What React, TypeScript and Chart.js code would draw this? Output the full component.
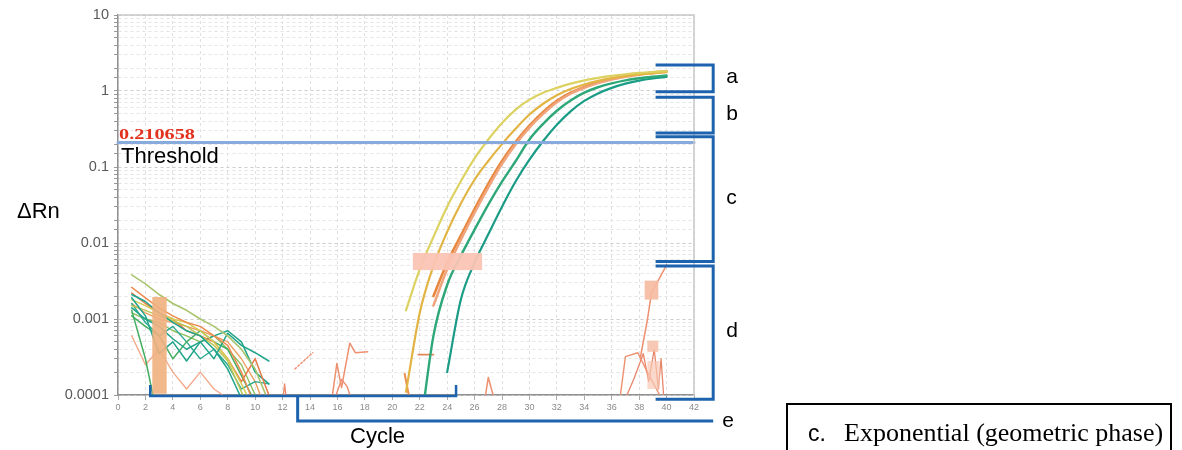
import React, { useEffect, useRef } from 'react';
import { Chart, registerables } from 'chart.js';

Chart.register(...registerables);

// ---------------- data ----------------
const yTickLabels = ['0.0001', '0.001', '0.01', '0.1', '1', '10'];
const thresholdValue = 0.210658;
const thresholdText = '0.210658';

// amplification curves (value per cycle, starting at the given cycle)
const ampYellowStart = 21;
const ampYellow = [0.0013, 0.0045, 0.012, 0.03, 0.065, 0.13, 0.23, 0.38, 0.57, 0.77, 0.95, 1.1, 1.25, 1.38, 1.49, 1.58, 1.66, 1.73, 1.78, 1.82];
const ampGoldStart = 21;
const ampGold = [0.00011, 0.0012, 0.005, 0.014, 0.033, 0.068, 0.12, 0.2, 0.32, 0.49, 0.68, 0.88, 1.06, 1.22, 1.36, 1.48, 1.57, 1.65, 1.71, 1.77];
const ampOrangeStart = 23;
const ampOrange = [0.002, 0.0055, 0.0125, 0.028, 0.06, 0.12, 0.215, 0.35, 0.53, 0.74, 0.95, 1.13, 1.3, 1.45, 1.57, 1.67, 1.75, 1.82];
const ampSalmonStart = 23;
const ampSalmon = [0.0015, 0.0045, 0.011, 0.025, 0.054, 0.11, 0.2, 0.33, 0.5, 0.71, 0.92, 1.1, 1.27, 1.42, 1.54, 1.64, 1.72, 1.79];
const ampGreenStart = 22;
const ampGreen = [0.00003, 0.0006, 0.0028, 0.0068, 0.015, 0.032, 0.064, 0.12, 0.23, 0.37, 0.55, 0.75, 0.95, 1.12, 1.26, 1.38, 1.47, 1.54, 1.6];
const ampTealStart = 24;
const ampTeal = [0.0002, 0.0018, 0.0055, 0.013, 0.03, 0.065, 0.125, 0.22, 0.36, 0.54, 0.74, 0.93, 1.1, 1.25, 1.37, 1.46, 1.53];

// baseline noise (cycles 1..11)
const noiseStart = 1;
const noiseOlive = [0.0038, 0.0029, 0.0021, 0.0016, 0.0013, 0.001, 0.0008, 0.0006, 0.0004, 0.00022, 0.00008];
const noiseOrangeA = [0.0026, 0.0019, 0.0014, 0.0011, 0.0009, 0.0008, 0.0006, 0.00045, 0.0002, 0.00007];
const noiseTealA = [0.0021, 0.0017, 0.0012, 0.0009, 0.0007, 0.0006, 0.0004, 0.00022, 0.00009];
const noiseTealB = [0.0019, 0.0011, 0.00035, 0.0005, 0.00028, 0.0005, 0.0003, 0.00065, 0.00045, 0.00036, 0.00028];
const noiseGreenA = [0.0013, 0.0003, 0.00004];
const noiseYellowA = [0.0018, 0.0015, 0.0012, 0.001, 0.0009, 0.0007, 0.0005, 0.0003, 0.00014, 0.00006];
const noiseYellowB = [0.0015, 0.0013, 0.0011, 0.00095, 0.0008, 0.0006, 0.00045, 0.00028, 0.00011, 0.00005];
const noiseOrangeB = [0.0022, 0.0016, 0.0012, 0.001, 0.0007, 0.0006, 0.0005, 0.0003, 0.00015, 0.0003, 0.0001];
const noiseTealC = [0.0014, 0.001, 0.0008, 0.00055, 0.0004, 0.0005, 0.0006, 0.0007, 0.0005, 0.0002, 0.00014];
const noiseGreenB = [0.0011, 0.0008, 0.0006, 0.0003, 0.0005, 0.0007, 0.0005, 0.0004, 0.00018, 0.00008];
const noiseSalmon = [0.0006, 0.00025, 0.0004, 0.0002, 0.00012, 0.0002, 0.00012, 0.00009];
const noiseTealD = [0.0016, 0.0009, 0.0006, 0.0008, 0.0005, 0.0003, 0.0004, 0.00025, 0.00012, 0.00015, 0.00014];
const noiseOrangeC = [0.0016, 0.0012, 0.001, 0.0009, 0.0008, 0.0007, 0.0006, 0.0005, 0.0003, 0.00015, 0.00005];
const noiseGreenC = [0.0012, 0.001, 0.0009, 0.0007, 0.0006, 0.0005, 0.0006, 0.0004, 0.00025, 0.0001];

// scattered fragments (cycle, value)
const fragSpikeC = [12.0, 12.15, 12.3];
const fragSpikeV = [0.00008, 0.00014, 0.00008];
const fragDashC = [12.9, 14.2];
const fragDashV = [0.00022, 0.00036];
const fragMidAC = [15.6, 15.96, 16.3, 16.9, 17.3, 18.2];
const fragMidAV = [0.00009, 0.00026, 0.000125, 0.00048, 0.00036, 0.00037];
const fragMidBC = [15.9, 16.3, 16.7, 17.0];
const fragMidBV = [0.0001, 0.00016, 0.00013, 0.00009];
const fragLowC = [20.9, 21.2];
const fragLowV = [0.00019, 0.0001];
const fragBarC = [21.9, 23.0];
const fragBarV = [0.00034, 0.00034];
const frag27C = [26.8, 27.0, 27.35];
const frag27V = [0.0001, 0.00017, 0.0001];
const lateAC = [36.6, 37.0, 37.9, 38.6, 39.5, 39.7];
const lateAV = [0.00009, 0.00032, 0.00036, 0.0002, 0.0001, 0.00008];
const lateBC = [38.1, 38.6, 38.9, 39.8, 40.0];
const lateBV = [0.00032, 0.00097, 0.0022, 0.0044, 0.0052];
const lateCC = [37.0, 37.6, 38.3, 38.7, 39.1, 39.4, 39.6, 39.8];
const lateCV = [0.00009, 0.00016, 0.00035, 0.00015, 0.0004, 0.00012, 0.0003, 0.00009];

// smudges (cycle range, value range)
const smudgeCycles = [[2.5, 3.55], [21.5, 26.55], [38.4, 39.4], [38.6, 39.4], [38.6, 39.5]];
const smudgeValues = [[0.00195, 0.000104], [0.0074, 0.0044], [0.0032, 0.0018], [0.00052, 0.00037], [0.00028, 0.00012]];

// phase brackets (value ranges)
const phaseLabels = ['a', 'b', 'c', 'd'];
const phaseRanges = [[2.2, 0.98], [0.83, 0.28], [0.25, 0.0057], [0.005, 0.000088]];

// ---------------- helpers ----------------
const seq = (start: number, vals: number[]) => vals.map((v, i) => ({ x: start + i, y: v }));
const pairs = (xs: number[], ys: number[]) => xs.map((x, i) => ({ x, y: ys[i] }));

const C = {
  yellow: '#dcd262',
  gold: '#e2b444',
  orange: '#e8883e',
  salmon: '#f0a47c',
  green: '#2ea878',
  teal: '#1a9c86',
  olive: '#a8c46c',
  noiseTeal: '#20a48a',
  noiseGreen: '#44ae60',
  noiseYellow: '#d6cc52',
  noiseOrange: '#ec8c50',
  frag: '#ee9070',
};
const smudgeColors = ['rgba(240,176,128,0.9)', 'rgba(250,196,180,0.95)', 'rgba(246,186,160,0.9)', 'rgba(246,190,166,0.85)', 'rgba(248,200,180,0.7)'];
const BLUE = '#1d63ad';

function line(data: any[], color: string, width: number, extra: any = {}) {
  return {
    data,
    borderColor: color,
    backgroundColor: color,
    borderWidth: width,
    pointRadius: 0,
    fill: false,
    tension: 0,
    borderJoinStyle: 'round',
    borderCapStyle: 'round',
    ...extra,
  };
}

const isPow10 = (v: number) => {
  const e = Math.log10(v);
  return Math.abs(e - Math.round(e)) < 1e-6;
};

const annotationPlugin = {
  id: 'annot',
  afterDatasetsDraw(chart: any) {
    const { ctx, scales } = chart;
    const x = scales.x, y = scales.y;
    ctx.save();
    smudgeCycles.forEach(([c0, c1], i) => {
      const [v0, v1] = smudgeValues[i];
      const px0 = x.getPixelForValue(c0), px1 = x.getPixelForValue(c1);
      const py0 = y.getPixelForValue(v0), py1 = y.getPixelForValue(v1);
      ctx.fillStyle = smudgeColors[i];
      ctx.fillRect(px0, py0, px1 - px0, py1 - py0);
    });
    ctx.restore();
  },
  afterDraw(chart: any) {
    const { ctx, chartArea: ca, scales } = chart;
    const x = scales.x, y = scales.y;
    ctx.save();
    // frame top/right
    ctx.strokeStyle = '#c8c8c8';
    ctx.lineWidth = 1.5;
    ctx.beginPath();
    ctx.moveTo(ca.left, ca.top);
    ctx.lineTo(ca.right, ca.top);
    ctx.lineTo(ca.right, ca.bottom);
    ctx.stroke();

    const thrY = y.getPixelForValue(thresholdValue);
    // red threshold value
    ctx.save();
    ctx.fillStyle = '#e2321e';
    ctx.font = 'bold 15px "Liberation Serif", serif';
    ctx.textBaseline = 'alphabetic';
    ctx.translate(ca.left + 1, thrY - 3);
    ctx.scale(1.35, 1);
    ctx.fillText(thresholdText, 0, 0);
    ctx.restore();

    ctx.fillStyle = '#000';
    ctx.textBaseline = 'middle';
    ctx.textAlign = 'left';
    ctx.font = '22px "Liberation Sans", Arial, sans-serif';
    ctx.fillText('Threshold', ca.left + 3, thrY + 15);
    ctx.fillText('\u0394Rn', 17, 212);
    ctx.fillText('Cycle', 350, 437);

    // phase brackets
    const xL = x.getPixelForValue(39.2);
    const xR = x.getPixelForValue(43.4);
    ctx.strokeStyle = BLUE;
    ctx.lineWidth = 3;
    ctx.lineJoin = 'miter';
    ctx.font = '21px "Liberation Sans", Arial, sans-serif';
    phaseRanges.forEach(([vTop, vBot], i) => {
      const yt = y.getPixelForValue(vTop);
      const yb = y.getPixelForValue(vBot);
      ctx.beginPath();
      ctx.moveTo(xL, yt);
      ctx.lineTo(xR, yt);
      ctx.lineTo(xR, yb);
      ctx.lineTo(xL, yb);
      ctx.stroke();
      ctx.fillText(phaseLabels[i], xR + 13, (yt + yb) / 2 - 1);
    });
    // e bracket
    const xe = x.getPixelForValue(13.1);
    const ye = ca.bottom + 26;
    ctx.beginPath();
    ctx.moveTo(xe, ca.bottom + 2);
    ctx.lineTo(xe, ye);
    ctx.lineTo(xR, ye);
    ctx.stroke();
    ctx.fillText('e', xR + 9, ye);
    // cycle bracket on the axis
    const xa = x.getPixelForValue(2.35);
    const xb = x.getPixelForValue(24.65);
    ctx.lineWidth = 2.5;
    ctx.beginPath();
    ctx.moveTo(xa, ca.bottom - 10);
    ctx.lineTo(xa, ca.bottom + 1);
    ctx.lineTo(xb, ca.bottom + 1);
    ctx.lineTo(xb, ca.bottom - 10);
    ctx.stroke();

    // caption box
    ctx.strokeStyle = '#000';
    ctx.lineWidth = 2;
    ctx.strokeRect(787, 404, 384, 60);
    ctx.textBaseline = 'alphabetic';
    ctx.font = '23px "Liberation Sans", Arial, sans-serif';
    ctx.fillText('c.', 808, 441);
    ctx.font = '26px "Liberation Serif", "Times New Roman", serif';
    ctx.fillText('Exponential (geometric phase)', 844, 441);
    ctx.restore();
  },
};

export default function App() {
  const ref = useRef<HTMLCanvasElement | null>(null);
  useEffect(() => {
    if (!ref.current) return;
    const datasets: any[] = [
      line([{ x: 0, y: thresholdValue }, { x: 42, y: thresholdValue }], '#88aadd', 3, { clip: 4 }),
      // amplification
      line(seq(ampYellowStart, ampYellow), C.yellow, 2.2, { cubicInterpolationMode: 'monotone' }),
      line(seq(ampGoldStart, ampGold), C.gold, 2.2, { cubicInterpolationMode: 'monotone' }),
      line(seq(ampSalmonStart, ampSalmon), C.salmon, 2.5, { cubicInterpolationMode: 'monotone' }),
      line(seq(ampOrangeStart, ampOrange), C.orange, 2.6, { cubicInterpolationMode: 'monotone' }),
      line(seq(ampGreenStart, ampGreen), C.green, 2.4, { cubicInterpolationMode: 'monotone' }),
      line(seq(ampTealStart, ampTeal), C.teal, 2.2, { cubicInterpolationMode: 'monotone' }),
      // noise
      line(seq(noiseStart, noiseOlive), C.olive, 1.6),
      line(seq(noiseStart, noiseOrangeA), C.noiseOrange, 1.5),
      line(seq(noiseStart, noiseTealA), C.noiseTeal, 1.5),
      line(seq(noiseStart, noiseTealB), C.noiseTeal, 1.5),
      line(seq(noiseStart, noiseGreenA), C.noiseGreen, 1.5),
      line(seq(noiseStart, noiseYellowA), C.noiseYellow, 1.5),
      line(seq(noiseStart, noiseYellowB), '#bcc656', 1.5),
      line(seq(noiseStart, noiseOrangeB), '#e67a48', 1.5),
      line(seq(noiseStart, noiseTealC), C.noiseTeal, 1.5),
      line(seq(noiseStart, noiseGreenB), C.noiseGreen, 1.5),
      line(seq(noiseStart, noiseSalmon), '#f2a888', 1.3),
      line(seq(noiseStart, noiseTealD), '#2aa890', 1.4),
      line(seq(noiseStart, noiseOrangeC), '#eea060', 1.4),
      line(seq(noiseStart, noiseGreenC), '#8cc060', 1.4),
      // fragments
      line(pairs(fragSpikeC, fragSpikeV), C.frag, 1.4),
      line(pairs(fragDashC, fragDashV), C.frag, 1.4, { borderDash: [2, 2] }),
      line(pairs(fragMidAC, fragMidAV), C.frag, 1.5),
      line(pairs(fragMidBC, fragMidBV), C.frag, 1.4),
      line(pairs(fragLowC, fragLowV), '#e89050', 2),
      line(pairs(fragBarC, fragBarV), '#e08858', 1.8),
      line(pairs(frag27C, frag27V), C.frag, 1.5),
      line(pairs(lateAC, lateAV), C.frag, 1.4),
      line(pairs(lateBC, lateBV), C.frag, 1.5),
      line(pairs(lateCC, lateCV), '#e8866a', 1.3),
    ];

    const chart = new Chart(ref.current, {
      type: 'line',
      data: { datasets },
      plugins: [annotationPlugin],
      options: {
        responsive: false,
        animation: false,
        events: [],
        layout: { padding: { left: 0, top: 15, right: 488, bottom: 0 } },
        plugins: { legend: { display: false }, tooltip: { enabled: false } },
        scales: {
          x: {
            type: 'linear',
            min: 0,
            max: 42,
            ticks: {
              stepSize: 2,
              color: '#8a8a8a',
              padding: 2,
              maxRotation: 0,
              font: { size: 9, family: '"Liberation Sans", Arial, sans-serif' },
            },
            grid: { color: '#e0e0e0', tickColor: '#aaa', tickLength: 5, lineWidth: 1 },
            border: { color: '#909090', width: 1.5, dash: [3, 3] },
            afterFit: (s: any) => { s.height = 55; },
          },
          y: {
            type: 'logarithmic',
            min: 0.0001,
            max: 10,
            ticks: {
              autoSkip: false,
              color: '#5a5a5a',
              padding: 5,
              font: { size: 14.5, family: '"Liberation Sans", Arial, sans-serif' },
              callback: (v: any) => {
                const n = Number(v);
                if (!isPow10(n)) return '';
                return yTickLabels[Math.round(Math.log10(n)) + 4] ?? '';
              },
            },
            grid: {
              color: (c: any) => (c.tick && isPow10(c.tick.value) ? '#cccccc' : '#e4e4e4'),
              tickColor: '#999',
              tickLength: 4,
            },
            border: { color: '#909090', width: 1.5, dash: [3, 3] },
            afterFit: (s: any) => { s.width = 118; },
          },
        },
      },
    } as any);
    return () => chart.destroy();
  }, []);

  return (
    <div style={{ position: 'absolute', left: 0, top: 0, width: 1182, height: 450, background: '#fff' }}>
      <canvas ref={ref} width={1182} height={450} style={{ width: 1182, height: 450, display: 'block' }} />
    </div>
  );
}
